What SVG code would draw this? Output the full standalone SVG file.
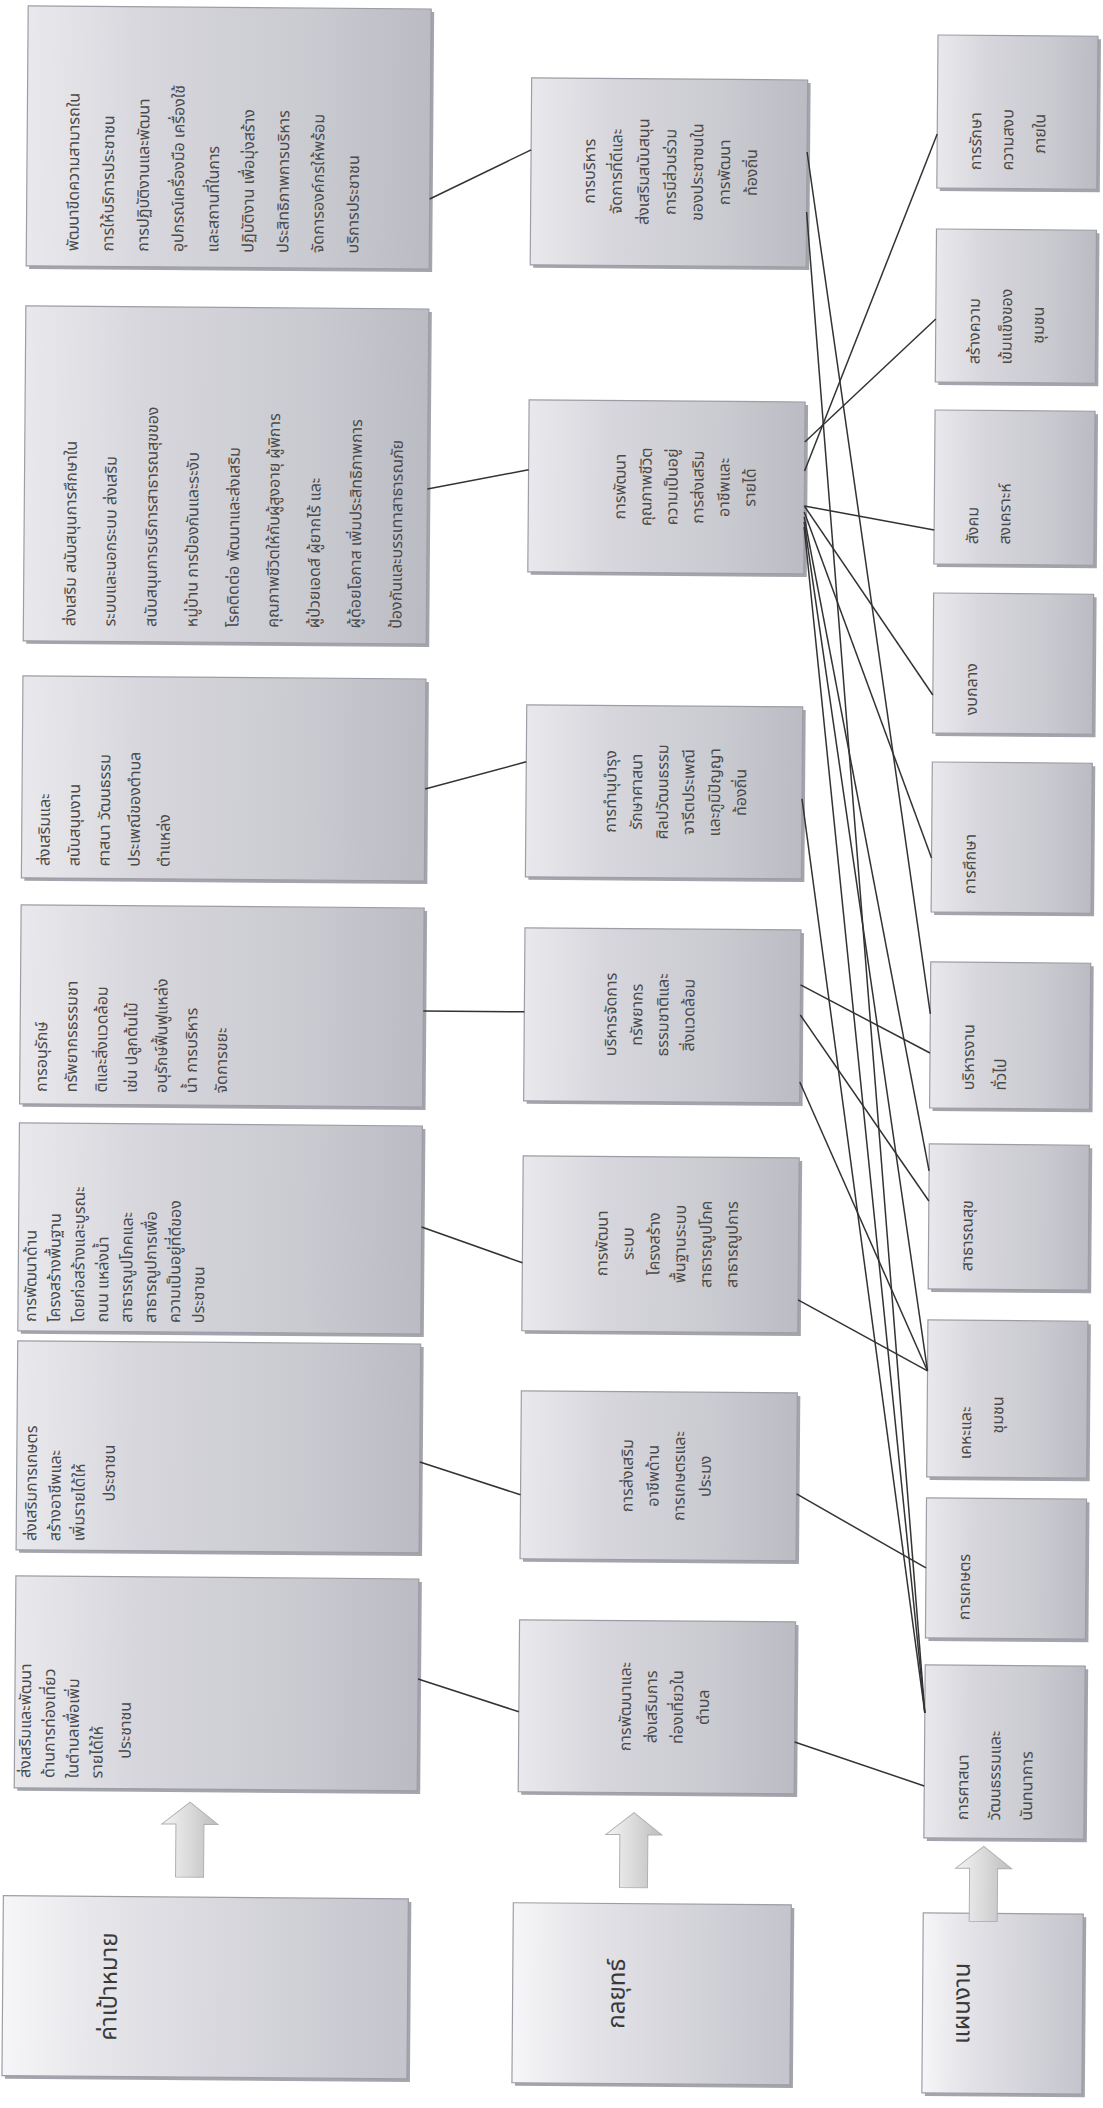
<svg xmlns="http://www.w3.org/2000/svg" width="1103" height="2108" viewBox="0 0 1103 2108">
<defs>
<linearGradient id="boxg" x1="0" y1="0" x2="1" y2="0">
<stop offset="0" stop-color="#e9e9ed"/>
<stop offset="0.3" stop-color="#d6d6dc"/>
<stop offset="0.7" stop-color="#cacad1"/>
<stop offset="1" stop-color="#bbbbc3"/>
</linearGradient>
<linearGradient id="hdrg" x1="0" y1="0" x2="1" y2="0">
<stop offset="0" stop-color="#f6f6f8"/>
<stop offset="0.3" stop-color="#e2e2e7"/>
<stop offset="1" stop-color="#c4c4cc"/>
</linearGradient>
<linearGradient id="arrg" x1="0" y1="0" x2="1" y2="0">
<stop offset="0" stop-color="#f4f4f4"/>
<stop offset="0.5" stop-color="#dadada"/>
<stop offset="1" stop-color="#bdbdbd"/>
</linearGradient>
<path id="uparrow" d="M0,0 L28,22 L14,22 L14,75 L-14,75 L-14,22 L-28,22 Z"/>
</defs>
<style>
.box{fill:url(#boxg);stroke:#9d9da5;stroke-width:1.2}
.hdr{fill:url(#hdrg);stroke:#9d9da5;stroke-width:1.2}
.sh{fill:#a4a4ac}
.t{font-family:"Noto Sans Thai","Noto Sans","DejaVu Sans",sans-serif;font-size:16px;fill:#4a4a4a}
.ts{font-family:"Noto Sans Thai","Noto Sans","DejaVu Sans",sans-serif;font-size:16px;fill:#4a4a4a}
.th{font-family:"Noto Sans Thai","Noto Sans","DejaVu Sans",sans-serif;font-size:24px;fill:#3a3a3a}
.m{text-anchor:middle}
.arr{fill:url(#arrg);stroke:#b0b0b0;stroke-width:1}
.conn line{stroke:#333;stroke-width:1.5}
</style>
<rect width="1103" height="2108" fill="#ffffff"/>
<g transform="rotate(0.45 551 1054)">

<g id="goal-header">
<rect class="sh" x="13" y="1903" width="405" height="180"/>
<rect class="hdr" x="10" y="1900" width="405" height="180"/>
<text class="th m" x="124" y="1990" transform="rotate(-90 124 1990)">ค่าเป้าหมาย</text>
</g>
<g id="goal-1">
<rect class="sh" x="23" y="13" width="403" height="260"/>
<rect class="box" x="20" y="10" width="403" height="260"/>
<text class="t" x="72" y="255" transform="rotate(-90 72 255)">พัฒนาขีดความสามารถใน</text>
<text class="t" x="107" y="255" transform="rotate(-90 107 255)">การให้บริการประชาชน</text>
<text class="t" x="142" y="255" transform="rotate(-90 142 255)">การปฏิบัติงานและพัฒนา</text>
<text class="t" x="177" y="255" transform="rotate(-90 177 255)">อุปกรณ์เครื่องมือ เครื่องใช้</text>
<text class="t" x="212" y="255" transform="rotate(-90 212 255)">และสถานที่ในการ</text>
<text class="t" x="247" y="255" transform="rotate(-90 247 255)">ปฏิบัติงาน เพื่อมุ่งสร้าง</text>
<text class="t" x="282" y="255" transform="rotate(-90 282 255)">ประสิทธิภาพการบริหาร</text>
<text class="t" x="317" y="255" transform="rotate(-90 317 255)">จัดการองค์กรให้พร้อม</text>
<text class="t" x="352" y="255" transform="rotate(-90 352 255)">บริการประชาชน</text>
</g>
<g id="goal-2">
<rect class="sh" x="23" y="313" width="403" height="335"/>
<rect class="box" x="20" y="310" width="403" height="335"/>
<text class="t" x="72" y="630" transform="rotate(-90 72 630)">ส่งเสริม สนับสนุนการศึกษาใน</text>
<text class="t" x="112" y="630" transform="rotate(-90 112 630)">ระบบและนอกระบบ ส่งเสริม</text>
<text class="t" x="153" y="630" transform="rotate(-90 153 630)">สนับสนุนการบริการสาธารณสุขของ</text>
<text class="t" x="194" y="630" transform="rotate(-90 194 630)">หมู่บ้าน การป้องกันและระงับ</text>
<text class="t" x="235" y="630" transform="rotate(-90 235 630)">โรคติดต่อ พัฒนาและส่งเสริม</text>
<text class="t" x="275" y="630" transform="rotate(-90 275 630)">คุณภาพชีวิตให้กับผู้สูงอายุ ผู้พิการ</text>
<text class="t" x="316" y="630" transform="rotate(-90 316 630)">ผู้ป่วยเอดส์ ผู้ยากไร้ และ</text>
<text class="t" x="357" y="630" transform="rotate(-90 357 630)">ผู้ด้อยโอกาส เพิ่มประสิทธิภาพการ</text>
<text class="t" x="398" y="630" transform="rotate(-90 398 630)">ป้องกันและบรรเทาสาธารณภัย</text>
</g>
<g id="goal-3">
<rect class="sh" x="23" y="683" width="403" height="202"/>
<rect class="box" x="20" y="680" width="403" height="202"/>
<text class="t" x="48" y="870" transform="rotate(-90 48 870)">ส่งเสริมและ</text>
<text class="t" x="78" y="870" transform="rotate(-90 78 870)">สนับสนุนงาน</text>
<text class="t" x="108" y="870" transform="rotate(-90 108 870)">ศาสนา วัฒนธรรม</text>
<text class="t" x="138" y="870" transform="rotate(-90 138 870)">ประเพณีของตำบล</text>
<text class="t" x="168" y="870" transform="rotate(-90 168 870)">ตำแหล่ง</text>
</g>
<g id="goal-4">
<rect class="sh" x="23" y="912" width="403" height="199"/>
<rect class="box" x="20" y="909" width="403" height="199"/>
<text class="t" x="47" y="1096" transform="rotate(-90 47 1096)">การอนุรักษ์</text>
<text class="t" x="77" y="1096" transform="rotate(-90 77 1096)">ทรัพยากรธรรมชา</text>
<text class="t" x="107" y="1096" transform="rotate(-90 107 1096)">ติและสิ่งแวดล้อม</text>
<text class="t" x="137" y="1096" transform="rotate(-90 137 1096)">เช่น ปลูกต้นไม้</text>
<text class="t" x="167" y="1096" transform="rotate(-90 167 1096)">อนุรักษ์ฟื้นฟูแหล่ง</text>
<text class="t" x="197" y="1096" transform="rotate(-90 197 1096)">น้ำ การบริหาร</text>
<text class="t" x="227" y="1096" transform="rotate(-90 227 1096)">จัดการขยะ</text>
</g>
<g id="goal-5">
<rect class="sh" x="23" y="1130" width="403" height="208"/>
<rect class="box" x="20" y="1127" width="403" height="208"/>
<text class="t" x="38" y="1326" transform="rotate(-90 38 1326)">การพัฒนาด้าน</text>
<text class="t" x="62" y="1326" transform="rotate(-90 62 1326)">โครงสร้างพื้นฐาน</text>
<text class="t" x="86" y="1326" transform="rotate(-90 86 1326)">โดยก่อสร้างและบูรณะ</text>
<text class="t" x="110" y="1326" transform="rotate(-90 110 1326)">ถนน แหล่งน้ำ</text>
<text class="t" x="134" y="1326" transform="rotate(-90 134 1326)">สาธารณูปโภคและ</text>
<text class="t" x="158" y="1326" transform="rotate(-90 158 1326)">สาธารณูปการเพื่อ</text>
<text class="t" x="182" y="1326" transform="rotate(-90 182 1326)">ความเป็นอยู่ที่ดีของ</text>
<text class="t" x="206" y="1326" transform="rotate(-90 206 1326)">ประชาชน</text>
</g>
<g id="goal-6">
<rect class="sh" x="23" y="1348" width="403" height="209"/>
<rect class="box" x="20" y="1345" width="403" height="209"/>
<text class="t" x="40" y="1545" transform="rotate(-90 40 1545)">ส่งเสริมการเกษตร</text>
<text class="t" x="64" y="1545" transform="rotate(-90 64 1545)">สร้างอาชีพและ</text>
<text class="t" x="88" y="1545" transform="rotate(-90 88 1545)">เพิ่มรายได้ให้</text>
<text class="t" x="118" y="1505" transform="rotate(-90 118 1505)">ประชาชน</text>
</g>
<g id="goal-7">
<rect class="sh" x="23" y="1583" width="403" height="212"/>
<rect class="box" x="20" y="1580" width="403" height="212"/>
<text class="t" x="36" y="1782" transform="rotate(-90 36 1782)">ส่งเสริมและพัฒนา</text>
<text class="t" x="60" y="1782" transform="rotate(-90 60 1782)">ด้านการท่องเที่ยว</text>
<text class="t" x="84" y="1782" transform="rotate(-90 84 1782)">ในตำบลเพื่อเพิ่ม</text>
<text class="t" x="108" y="1782" transform="rotate(-90 108 1782)">รายได้ให้</text>
<text class="t" x="136" y="1762" transform="rotate(-90 136 1762)">ประชาชน</text>
</g>

<g id="strategy-header">
<rect class="sh" x="523" y="1906" width="278" height="180"/>
<rect class="hdr" x="520" y="1903" width="278" height="180"/>
<text class="th m" x="632" y="1993" transform="rotate(-90 632 1993)">กลยุทธ์</text>
</g>
<g id="strategy-1">
<rect class="sh" x="527" y="81" width="276" height="187"/>
<rect class="box" x="524" y="78" width="276" height="187"/>
<text class="ts m" x="588" y="171" transform="rotate(-90 588 171)">การบริหาร</text>
<text class="ts m" x="615" y="171" transform="rotate(-90 615 171)">จัดการที่ดีและ</text>
<text class="ts m" x="642" y="171" transform="rotate(-90 642 171)">ส่งเสริมสนับสนุน</text>
<text class="ts m" x="669" y="171" transform="rotate(-90 669 171)">การมีส่วนร่วม</text>
<text class="ts m" x="696" y="171" transform="rotate(-90 696 171)">ของประชาชนใน</text>
<text class="ts m" x="723" y="171" transform="rotate(-90 723 171)">การพัฒนา</text>
<text class="ts m" x="750" y="171" transform="rotate(-90 750 171)">ท้องถิ่น</text>
</g>
<g id="strategy-2">
<rect class="sh" x="527" y="403" width="276" height="172"/>
<rect class="box" x="524" y="400" width="276" height="172"/>
<text class="ts m" x="621" y="486" transform="rotate(-90 621 486)">การพัฒนา</text>
<text class="ts m" x="647" y="486" transform="rotate(-90 647 486)">คุณภาพชีวิต</text>
<text class="ts m" x="673" y="486" transform="rotate(-90 673 486)">ความเป็นอยู่</text>
<text class="ts m" x="699" y="486" transform="rotate(-90 699 486)">การส่งเสริม</text>
<text class="ts m" x="725" y="486" transform="rotate(-90 725 486)">อาชีพและ</text>
<text class="ts m" x="751" y="486" transform="rotate(-90 751 486)">รายได้</text>
</g>
<g id="strategy-3">
<rect class="sh" x="527" y="708" width="276" height="172"/>
<rect class="box" x="524" y="705" width="276" height="172"/>
<text class="ts m" x="614" y="791" transform="rotate(-90 614 791)">การทำนุบำรุง</text>
<text class="ts m" x="640" y="791" transform="rotate(-90 640 791)">รักษาศาสนา</text>
<text class="ts m" x="666" y="791" transform="rotate(-90 666 791)">ศิลปวัฒนธรรม</text>
<text class="ts m" x="692" y="791" transform="rotate(-90 692 791)">จารีตประเพณี</text>
<text class="ts m" x="718" y="791" transform="rotate(-90 718 791)">และภูมิปัญญา</text>
<text class="ts m" x="744" y="791" transform="rotate(-90 744 791)">ท้องถิ่น</text>
</g>
<g id="strategy-4">
<rect class="sh" x="527" y="931" width="276" height="173"/>
<rect class="box" x="524" y="928" width="276" height="173"/>
<text class="ts m" x="616" y="1014" transform="rotate(-90 616 1014)">บริหารจัดการ</text>
<text class="ts m" x="642" y="1014" transform="rotate(-90 642 1014)">ทรัพยากร</text>
<text class="ts m" x="668" y="1014" transform="rotate(-90 668 1014)">ธรรมชาติและ</text>
<text class="ts m" x="694" y="1014" transform="rotate(-90 694 1014)">สิ่งแวดล้อม</text>
</g>
<g id="strategy-5">
<rect class="sh" x="527" y="1159" width="276" height="175"/>
<rect class="box" x="524" y="1156" width="276" height="175"/>
<text class="ts m" x="609" y="1243" transform="rotate(-90 609 1243)">การพัฒนา</text>
<text class="ts m" x="635" y="1243" transform="rotate(-90 635 1243)">ระบบ</text>
<text class="ts m" x="661" y="1243" transform="rotate(-90 661 1243)">โครงสร้าง</text>
<text class="ts m" x="687" y="1243" transform="rotate(-90 687 1243)">พื้นฐานระบบ</text>
<text class="ts m" x="713" y="1243" transform="rotate(-90 713 1243)">สาธารณูปโภค</text>
<text class="ts m" x="739" y="1243" transform="rotate(-90 739 1243)">สาธารณูปการ</text>
</g>
<g id="strategy-6">
<rect class="sh" x="527" y="1394" width="276" height="168"/>
<rect class="box" x="524" y="1391" width="276" height="168"/>
<text class="ts m" x="636" y="1475" transform="rotate(-90 636 1475)">การส่งเสริม</text>
<text class="ts m" x="662" y="1475" transform="rotate(-90 662 1475)">อาชีพด้าน</text>
<text class="ts m" x="688" y="1475" transform="rotate(-90 688 1475)">การเกษตรและ</text>
<text class="ts m" x="714" y="1475" transform="rotate(-90 714 1475)">ประมง</text>
</g>
<g id="strategy-7">
<rect class="sh" x="527" y="1623" width="276" height="172"/>
<rect class="box" x="524" y="1620" width="276" height="172"/>
<text class="ts m" x="636" y="1706" transform="rotate(-90 636 1706)">การพัฒนาและ</text>
<text class="ts m" x="662" y="1706" transform="rotate(-90 662 1706)">ส่งเสริมการ</text>
<text class="ts m" x="688" y="1706" transform="rotate(-90 688 1706)">ท่องเที่ยวใน</text>
<text class="ts m" x="714" y="1706" transform="rotate(-90 714 1706)">ตำบล</text>
</g>

<g id="plan-header">
<rect class="sh" x="933" y="1913" width="160" height="180"/>
<rect class="hdr" x="930" y="1910" width="160" height="180"/>
<text class="th m" x="977" y="2000" transform="rotate(-90 977 2000)">แผนงาน</text>
</g>
<g id="plan-1">
<rect class="sh" x="933" y="35" width="160" height="153"/>
<rect class="box" x="930" y="32" width="160" height="153"/>
<text class="ts" x="974" y="167" transform="rotate(-90 974 167)">การรักษา</text>
<text class="ts" x="1006" y="167" transform="rotate(-90 1006 167)">ความสงบ</text>
<text class="ts" x="1038" y="150" transform="rotate(-90 1038 150)">ภายใน</text>
</g>
<g id="plan-2">
<rect class="sh" x="933" y="229" width="160" height="153"/>
<rect class="box" x="930" y="226" width="160" height="153"/>
<text class="ts" x="974" y="361" transform="rotate(-90 974 361)">สร้างความ</text>
<text class="ts" x="1006" y="361" transform="rotate(-90 1006 361)">เข้มแข็งของ</text>
<text class="ts" x="1038" y="340" transform="rotate(-90 1038 340)">ชุมชน</text>
</g>
<g id="plan-3">
<rect class="sh" x="933" y="410" width="160" height="154"/>
<rect class="box" x="930" y="407" width="160" height="154"/>
<text class="ts" x="974" y="541" transform="rotate(-90 974 541)">สังคม</text>
<text class="ts" x="1006" y="541" transform="rotate(-90 1006 541)">สงเคราะห์</text>
</g>
<g id="plan-4">
<rect class="sh" x="933" y="593" width="160" height="140"/>
<rect class="box" x="930" y="590" width="160" height="140"/>
<text class="ts" x="974" y="712" transform="rotate(-90 974 712)">งบกลาง</text>
</g>
<g id="plan-5">
<rect class="sh" x="933" y="762" width="160" height="150"/>
<rect class="box" x="930" y="759" width="160" height="150"/>
<text class="ts" x="974" y="891" transform="rotate(-90 974 891)">การศึกษา</text>
</g>
<g id="plan-6">
<rect class="sh" x="933" y="962" width="160" height="146"/>
<rect class="box" x="930" y="959" width="160" height="146"/>
<text class="ts" x="974" y="1087" transform="rotate(-90 974 1087)">บริหารงาน</text>
<text class="ts" x="1006" y="1087" transform="rotate(-90 1006 1087)">ทั่วไป</text>
</g>
<g id="plan-7">
<rect class="sh" x="933" y="1144" width="160" height="145"/>
<rect class="box" x="930" y="1141" width="160" height="145"/>
<text class="ts" x="974" y="1268" transform="rotate(-90 974 1268)">สาธารณสุข</text>
</g>
<g id="plan-8">
<rect class="sh" x="933" y="1320" width="160" height="157"/>
<rect class="box" x="930" y="1317" width="160" height="157"/>
<text class="ts" x="974" y="1456" transform="rotate(-90 974 1456)">เคหะและ</text>
<text class="ts" x="1006" y="1430" transform="rotate(-90 1006 1430)">ชุมชน</text>
</g>
<g id="plan-9">
<rect class="sh" x="933" y="1498" width="160" height="140"/>
<rect class="box" x="930" y="1495" width="160" height="140"/>
<text class="ts" x="974" y="1617" transform="rotate(-90 974 1617)">การเกษตร</text>
</g>
<g id="plan-10">
<rect class="sh" x="933" y="1665" width="160" height="173"/>
<rect class="box" x="930" y="1662" width="160" height="173"/>
<text class="ts" x="974" y="1817" transform="rotate(-90 974 1817)">การศาสนา</text>
<text class="ts" x="1006" y="1817" transform="rotate(-90 1006 1817)">วัฒนธรรมและ</text>
<text class="ts" x="1038" y="1817" transform="rotate(-90 1038 1817)">นันทนาการ</text>
</g>

<g id="arrows">
<use href="#uparrow" class="arr" x="196" y="1805"/>
<use href="#uparrow" class="arr" x="640" y="1812"/>
<use href="#uparrow" class="arr" x="990" y="1843"/>
</g>

<g id="connectors" class="conn">
<line x1="423" y1="200" x2="524" y2="150"/>
<line x1="423" y1="490" x2="524" y2="470"/>
<line x1="423" y1="790" x2="524" y2="762"/>
<line x1="423" y1="1012" x2="524" y2="1012"/>
<line x1="423" y1="1228" x2="524" y2="1263"/>
<line x1="423" y1="1463" x2="524" y2="1495"/>
<line x1="423" y1="1680" x2="524" y2="1712"/>
<line x1="800" y1="150" x2="930" y2="1011"/>
<line x1="800" y1="210" x2="930" y2="1710"/>
<line x1="800" y1="440" x2="930" y2="316"/>
<line x1="800" y1="469" x2="930" y2="131"/>
<line x1="800" y1="504" x2="930" y2="527"/>
<line x1="800" y1="504" x2="930" y2="692"/>
<line x1="800" y1="510" x2="930" y2="855"/>
<line x1="800" y1="515" x2="930" y2="1168"/>
<line x1="800" y1="520" x2="930" y2="1368"/>
<line x1="800" y1="525" x2="930" y2="1710"/>
<line x1="800" y1="797" x2="930" y2="1710"/>
<line x1="800" y1="983" x2="930" y2="1050"/>
<line x1="800" y1="1013" x2="930" y2="1198"/>
<line x1="800" y1="1080" x2="930" y2="1368"/>
<line x1="800" y1="1298" x2="930" y2="1368"/>
<line x1="800" y1="1492" x2="930" y2="1565"/>
<line x1="800" y1="1740" x2="930" y2="1783"/>
</g>
</g>
</svg>
